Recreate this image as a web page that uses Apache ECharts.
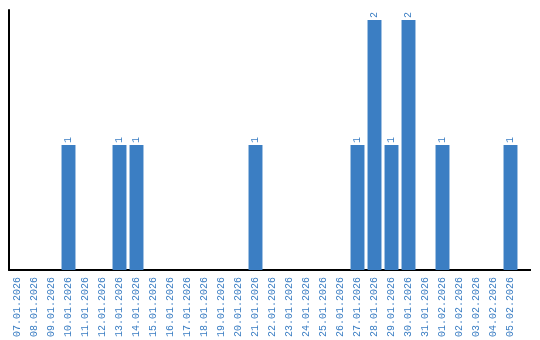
<!DOCTYPE html>
<html><head><meta charset="utf-8">
<script src="https://cdn.jsdelivr.net/npm/echarts@6/dist/echarts.min.js"></script>
<style>html,body{margin:0;padding:0;background:#fff}#c{width:540px;height:340px}</style>
</head><body><div id="c"></div>
<script>
const categories = ["07.01.2026","08.01.2026","09.01.2026","10.01.2026","11.01.2026","12.01.2026","13.01.2026","14.01.2026","15.01.2026","16.01.2026","17.01.2026","18.01.2026","19.01.2026","20.01.2026","21.01.2026","22.01.2026","23.01.2026","24.01.2026","25.01.2026","26.01.2026","27.01.2026","28.01.2026","29.01.2026","30.01.2026","31.01.2026","01.02.2026","02.02.2026","03.02.2026","04.02.2026","05.02.2026"];
const values = [0,0,0,1,0,0,1,1,0,0,0,0,0,0,1,0,0,0,0,0,1,2,1,2,0,1,0,0,0,1];
const color = '#3b7ec3';
const chart = echarts.init(document.getElementById('c'), null, {renderer:'canvas'});
chart.setOption({
  animation:false,
  grid:{left:9, width:510, top:10, height:260},
  xAxis:{type:'category', data:categories,
    axisLine:{lineStyle:{color:'#000', width:2}},
    axisTick:{show:false},
    axisLabel:{rotate:90, interval:0, color:color, fontFamily:'Liberation Mono', fontSize:10, margin:7}},
  yAxis:{type:'value', min:0, max:2.08, axisLine:{show:true, lineStyle:{color:'#000', width:2}},
    axisLabel:{show:false}, splitLine:{show:false}, axisTick:{show:false}},
  series:[{type:'bar', data:values.map(v=> v===0 ? {value:v, label:{show:false}} : v),
    barCategoryGap:'18%', itemStyle:{color:color},
    label:{show:true, position:'top', rotate:90, align:'left', verticalAlign:'middle', distance:2, color:color, fontFamily:'Liberation Mono', fontSize:10}}]
});
const p = chart.convertToPixel({gridIndex:0}, [categories.length-1, 0]);
chart.setOption({graphic:[{type:'line', shape:{x1:518, y1:p[1], x2:531, y2:p[1]}, style:{stroke:'#000', lineWidth:2}}]});
</script></body></html>
